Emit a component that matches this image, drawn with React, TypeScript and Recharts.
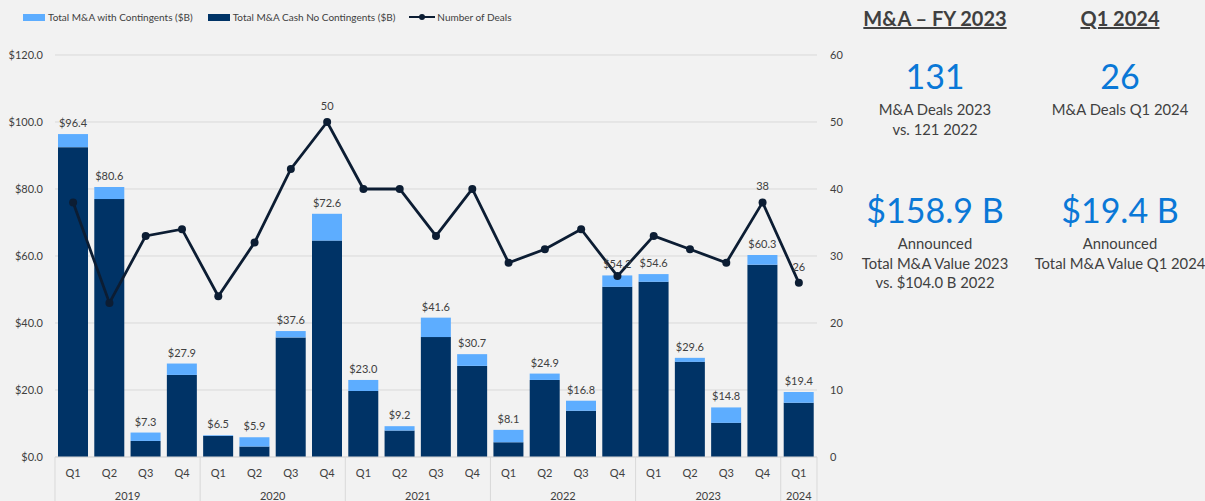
import React from 'react';
import { ComposedChart, Bar, Line, XAxis, YAxis, CartesianGrid, LabelList } from 'recharts';

const quarterLabels = ['Q1', 'Q2', 'Q3', 'Q4', 'Q1', 'Q2', 'Q3', 'Q4', 'Q1', 'Q2', 'Q3', 'Q4', 'Q1', 'Q2', 'Q3', 'Q4', 'Q1', 'Q2', 'Q3', 'Q4', 'Q1'];
const yearLabels = ['2019', '2019', '2019', '2019', '2020', '2020', '2020', '2020', '2021', '2021', '2021', '2021', '2022', '2022', '2022', '2022', '2023', '2023', '2023', '2023', '2024'];
const totalWithContingents = [96.4, 80.6, 7.3, 27.9, 6.5, 5.9, 37.6, 72.6, 23.0, 9.2, 41.6, 30.7, 8.1, 24.9, 16.8, 54.2, 54.6, 29.6, 14.8, 60.3, 19.4];
const cashNoContingents = [92.5, 77.0, 4.8, 24.5, 6.3, 3.1, 35.7, 64.6, 19.7, 7.9, 35.8, 27.2, 4.4, 23.0, 13.8, 50.8, 52.3, 28.4, 10.2, 57.4, 16.2];
const numberOfDeals = [38, 23, 33, 34, 24, 32, 43, 50, 40, 40, 33, 40, 29, 31, 34, 27, 33, 31, 29, 38, 26];
const labeledDealIndices = [7, 19, 20];
const leftTicks = [0, 20, 40, 60, 80, 100, 120];
const rightTicks = [0, 10, 20, 30, 40, 50, 60];

const data = quarterLabels.map((q, i) => ({
  key: `${yearLabels[i]}-${q}`,
  quarter: q,
  year: yearLabels[i],
  total: totalWithContingents[i],
  cash: cashNoContingents[i],
  contingent: +(totalWithContingents[i] - cashNoContingents[i]).toFixed(1),
  deals: numberOfDeals[i],
}));

const LIGHT = '#5DADFF';
const DARK = '#003366';
const LINE = '#0C1D33';
const TEXT = '#404040';
const FONT = 'Lato, "Open Sans", sans-serif';

const PLOT_LEFT = 55;
const PLOT_RIGHT = 817;
const PLOT_BOTTOM = 457;
const BAND = (PLOT_RIGHT - PLOT_LEFT) / data.length;

const QuarterTick = (props: any) => {
  const { x, payload } = props;
  const i = payload.index;
  const year = yearLabels[i];
  const isFirst = i === 0 || yearLabels[i - 1] !== year;
  const isLast = i === data.length - 1;
  let groupCount = 0;
  if (isFirst) {
    groupCount = yearLabels.filter(y => y === year).length;
  }
  return (
    <g>
      <text x={x} y={PLOT_BOTTOM + 20} textAnchor="middle" fontSize={11} fill={TEXT} fontFamily={FONT}>
        {quarterLabels[i]}
      </text>
      {isFirst && (
        <>
          <line x1={x - BAND / 2} x2={x - BAND / 2} y1={PLOT_BOTTOM} y2={501} stroke="#D9D9D9" />
          <text x={x + ((groupCount - 1) / 2) * BAND} y={PLOT_BOTTOM + 43} textAnchor="middle" fontSize={11} fill={TEXT} fontFamily={FONT}>
            {year}
          </text>
        </>
      )}
      {isLast && <line x1={x + BAND / 2} x2={x + BAND / 2} y1={PLOT_BOTTOM} y2={501} stroke="#D9D9D9" />}
    </g>
  );
};

const DealLabel = (props: any) => {
  const { x, y, value, index } = props;
  if (!labeledDealIndices.includes(index)) return null;
  return (
    <text x={x} y={y - 12} textAnchor="middle" fontSize={11} fill={TEXT} fontFamily={FONT}>
      {value}
    </text>
  );
};

const LegendRow = () => (
  <div style={{ position: 'absolute', left: 23, top: 11, display: 'flex', alignItems: 'center', fontSize: 10, color: TEXT, fontFamily: FONT }}>
    <span style={{ display: 'inline-block', width: 22, height: 7, background: LIGHT, marginRight: 3 }} />
    <span style={{ marginRight: 15 }}>Total M&amp;A with Contingents ($B)</span>
    <span style={{ display: 'inline-block', width: 22, height: 7, background: DARK, marginRight: 3 }} />
    <span style={{ marginRight: 14 }}>Total M&amp;A Cash No Contingents ($B)</span>
    <svg width={26} height={10} style={{ marginRight: 2 }}>
      <line x1={0} x2={26} y1={5} y2={5} stroke={LINE} strokeWidth={2} />
      <circle cx={13} cy={5} r={3} fill={LINE} />
    </svg>
    <span>Number of Deals</span>
  </div>
);

const statBlock = (cx: number, top: number, big: string, lines: string[], bigSize: number) => (
  <div style={{ position: 'absolute', left: cx - 100, width: 200, top, textAlign: 'center', fontFamily: FONT }}>
    <div style={{ fontSize: bigSize, lineHeight: `${bigSize + 4}px`, color: '#0A78D7', marginBottom: 5 }}>{big}</div>
    {lines.map(l => (
      <div key={l} style={{ fontSize: 14.8, lineHeight: '19.5px', color: TEXT }}>{l}</div>
    ))}
  </div>
);

export default function App() {
  return (
    <div style={{ position: 'absolute', left: 0, top: 0, width: 1205, height: 501, background: '#F2F2F2', overflow: 'hidden' }}>
      <ComposedChart width={1205} height={501} data={data} margin={{ top: 55, right: 358, bottom: 0, left: 0 }}>
        <CartesianGrid vertical={false} stroke="#D9D9D9" yAxisId="left" />
        <XAxis
          dataKey="key"
          height={44}
          interval={0}
          tick={<QuarterTick />}
          tickLine={false}
          axisLine={{ stroke: '#D9D9D9' }}
        />
        <YAxis
          yAxisId="left"
          width={55}
          domain={[0, 120]}
          ticks={leftTicks}
          tickFormatter={(v: number) => `$${v.toFixed(1)}`}
          axisLine={false}
          tickLine={false}
          tickMargin={6}
          tick={{ fontSize: 11, fill: TEXT, fontFamily: FONT }}
        />
        <YAxis
          yAxisId="right"
          orientation="right"
          width={30}
          domain={[0, 60]}
          ticks={rightTicks}
          axisLine={false}
          tickLine={false}
          tickMargin={7}
          tick={{ fontSize: 11, fill: TEXT, fontFamily: FONT }}
        />
        <Bar yAxisId="left" dataKey="cash" stackId="a" fill={DARK} barSize={30} isAnimationActive={false} />
        <Bar yAxisId="left" dataKey="contingent" stackId="a" fill={LIGHT} barSize={30} isAnimationActive={false}>
          <LabelList
            dataKey="total"
            position="top"
            offset={7}
            formatter={(v: any) => `$${Number(v).toFixed(1)}`}
            style={{ fontSize: 11, fill: TEXT, fontFamily: FONT }}
          />
        </Bar>
        <Line
          yAxisId="right"
          type="linear"
          dataKey="deals"
          stroke={LINE}
          strokeWidth={2.8}
          dot={{ r: 4, fill: LINE, stroke: LINE, strokeWidth: 0 }}
          isAnimationActive={false}
        >
          <LabelList dataKey="deals" content={<DealLabel />} />
        </Line>
      </ComposedChart>

      <LegendRow />

      <div style={{ position: 'absolute', left: 835, width: 200, top: 6, textAlign: 'center', fontFamily: FONT, fontWeight: 700, fontSize: 20, color: TEXT, textDecoration: 'underline' }}>
        M&amp;A – FY 2023
      </div>
      <div style={{ position: 'absolute', left: 1020, width: 200, top: 6, textAlign: 'center', fontFamily: FONT, fontWeight: 700, fontSize: 20, color: TEXT, textDecoration: 'underline' }}>
        Q1 2024
      </div>

      {statBlock(935, 57, '131', ['M&A Deals 2023', 'vs. 121 2022'], 34)}
      {statBlock(1120, 57, '26', ['M&A Deals Q1 2024'], 34)}
      {statBlock(935, 191, '$158.9 B', ['Announced', 'Total M&A Value 2023', 'vs. $104.0 B 2022'], 34)}
      {statBlock(1120, 191, '$19.4 B', ['Announced', 'Total M&A Value Q1 2024'], 34)}
    </div>
  );
}
